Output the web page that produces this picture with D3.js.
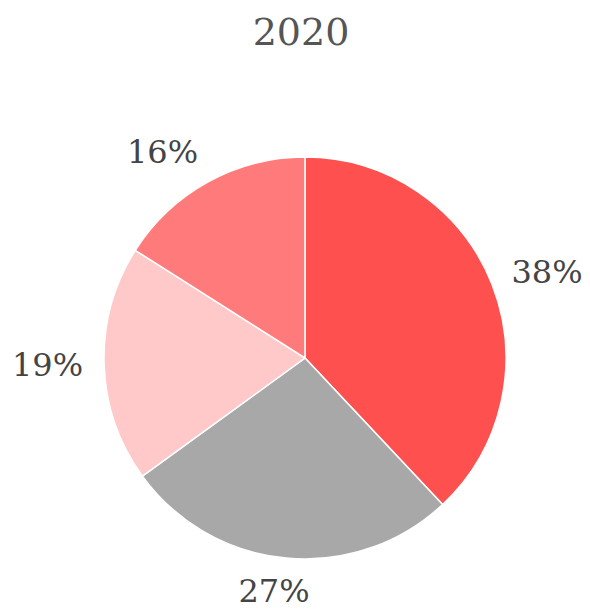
<!DOCTYPE html>
<html>
<head>
<meta charset="utf-8">
<script src="https://cdn.jsdelivr.net/npm/d3@7"></script>
<style>
  body { margin: 0; background: #fff; }
  svg { display: block; }
</style>
</head>
<body>
<div id="chart"></div>
<script>
var title = "2020";
var categories = ["A", "B", "C", "D"];
var values = [38, 27, 19, 16];
var colors = ["#ff5050", "#a8a8a8", "#ffc9c9", "#ff7b7b"];

function base() {
    var w = 590;
    var h = 612;
    var cx = 305, cy = 358;
    var r = 201;
    var labelR = 222;

    var svg = d3.select("#chart")
        .append("svg")
        .attr("width", w)
        .attr("height", h);

    svg.append("text")
        .attr("x", 301)
        .attr("y", 32)
        .attr("text-anchor", "middle")
        .attr("dominant-baseline", "central")
        .style("font-family", "Georgia, 'DejaVu Serif', serif")
        .style("font-size", "38px")
        .style("fill", "#555")
        .text(title);

    var pie = d3.pie().sort(null).value(function(d) { return d; });
    var arcs = pie(values);

    var arc = d3.arc().innerRadius(0).outerRadius(r);

    var g = svg.append("g").attr("transform", "translate(" + cx + "," + cy + ")");

    g.selectAll("path")
        .data(arcs)
        .enter()
        .append("path")
        .attr("d", arc)
        .attr("fill", function(d, i) { return colors[i]; })
        .attr("stroke", "#fff")
        .attr("stroke-width", 1.5);

    //labels sit just outside the pie, pushed away along the slice direction
    var labels = g.selectAll("text")
        .data(arcs)
        .enter()
        .append("text")
        .attr("text-anchor", "middle")
        .attr("dominant-baseline", "central")
        .style("font-family", "Georgia, 'DejaVu Serif', serif")
        .style("font-size", "32px")
        .style("fill", "#444")
        .text(function(d) { return d.data + "%"; });

    labels.attr("transform", function(d) {
        var a = (d.startAngle + d.endAngle) / 2;
        var bb = this.getBBox();
        var sx = Math.max(-1, Math.min(1, Math.sin(a) * 3));
        var x = labelR * Math.sin(a) + sx * bb.width / 2;
        var y = -labelR * Math.cos(a) - Math.cos(a) * bb.height * 0.33;
        return "translate(" + x + "," + y + ")";
    });
}

window.onload = base;
</script>
</body>
</html>
